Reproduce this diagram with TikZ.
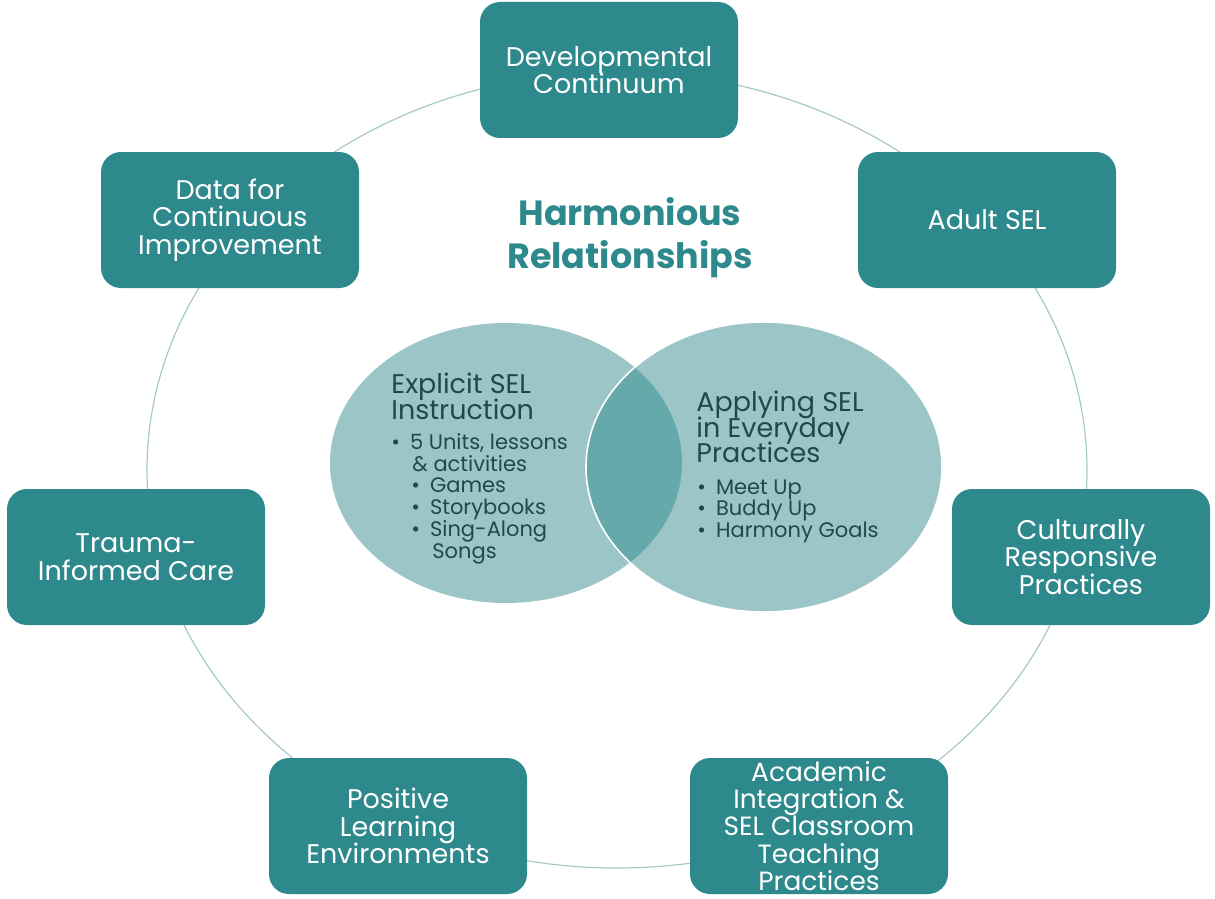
\documentclass[tikz,border=0pt]{standalone}
\usepackage{fontspec}
\setmainfont{Poppins}
\definecolor{boxteal}{HTML}{2E898C}
\definecolor{ringcol}{HTML}{A6C8CA}
\definecolor{vennfill}{HTML}{9BC5C7}
\definecolor{lensfill}{HTML}{66A9AB}
\definecolor{darktext}{HTML}{1F4A4C}
\setlength{\lineskiplimit}{-50pt}
\begin{document}
\begin{tikzpicture}[x=0.5pt,y=-0.5pt,
  box/.style={fill=boxteal, rounded corners=10pt, minimum width=129pt, minimum height=68pt,
    text=white, align=center, inner sep=0pt, font=\fontsize{13.5}{13.8}\selectfont},
  ring/.style={draw=ringcol, line width=0.6pt},
  venn/.style={fill=vennfill},
  lens/.style={fill=lensfill},
  vhead/.style={anchor=north west, align=left, text=darktext, inner sep=0pt, font=\fontsize{13.5}{12.6}\selectfont},
  vlist/.style={anchor=north west, align=left, text=darktext, inner sep=0pt, font=\fontsize{10.5}{10.9}\selectfont},
  title/.style={text=boxteal, align=center, inner sep=0pt, font=\fontsize{17.5}{21.5}\selectfont\bfseries}]
\useasboundingbox (0,0) rectangle (1215,899);
% ring
\draw[ring] (617,470) ellipse [x radius=470, y radius=398];
% venn
\fill[venn] (506,463) ellipse [x radius=176, y radius=140];
\fill[venn] (764,467) ellipse [x radius=178, y radius=145];
\begin{scope}
  \clip (506,463) ellipse [x radius=176, y radius=140];
  \fill[lens] (764,467) ellipse [x radius=178, y radius=145];
\end{scope}
\draw[white, line width=0.8pt] (764,467) ellipse [x radius=178, y radius=145];
% boxes
\node[box] (dev) at (609,70) {Developmental\\Continuum};
\node[box] (adult) at (987,220) {Adult SEL};
\node[box] (cult) at (1081,557) {Culturally\\Responsive\\Practices};
\node[box, font=\fontsize{13.2}{13.6}\selectfont] (acad) at (819,826) {Academic\\Integration \&\\SEL Classroom\\Teaching\\Practices};
\node[box] (pos) at (398,826) {Positive\\Learning\\Environments};
\node[box] (trauma) at (136,557) {Trauma-\\Informed Care};
\node[box] (data) at (230,220) {Data for\\Continuous\\Improvement};
% title
\node[title] (harm) at (630,238) {Harmonious\\Relationships};
% venn texts
\node[vhead] (exph) at (391,373) {Explicit SEL\\Instruction};
\node[vlist] (expl) at (391,433) {\textbullet\hspace{5pt}5 Units, lessons\\\hspace{10.5pt}\& activities\\
  \hspace{10pt}\textbullet\hspace{5pt}Games\\
  \hspace{10pt}\textbullet\hspace{5pt}Storybooks\\
  \hspace{10pt}\textbullet\hspace{5pt}Sing-Along\\\hspace{20.5pt}Songs};
\node[vhead] (apph) at (696,391) {Applying SEL\\in Everyday\\Practices};
\node[vlist] (appl) at (697,479) {\textbullet\hspace{5pt}Meet Up\\\textbullet\hspace{5pt}Buddy Up\\\textbullet\hspace{5pt}Harmony Goals};
\end{tikzpicture}
\end{document}
